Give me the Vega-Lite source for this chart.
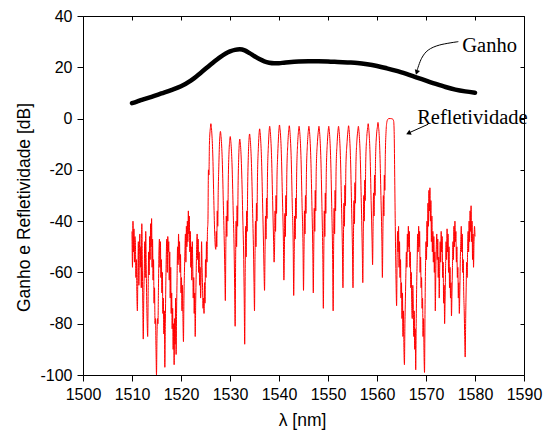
{
"$schema": "https://vega.github.io/schema/vega-lite/v6.json",
"width": 441, "height": 359,
"autosize": {"type": "none"},
"padding": {"left": 83, "top": 16, "right": 20, "bottom": 55},
"background": "white",
"config": {"view": {"stroke": null},
 "axis": {"labelFont": "Liberation Sans", "titleFont": "Liberation Sans", "labelColor": "black", "titleColor": "black", "domainColor": "black", "tickColor": "black", "grid": false, "titleFontWeight": "normal", "labelFontSize": 16, "titleFontSize": 17.5}},
"datasets": {
"refl": [
{"x":1510.0,"r":-44},{"x":1510.1,"r":-58},{"x":1510.2,"r":-40},{"x":1510.3,"r":-52},{"x":1510.4,"r":-43},{"x":1510.5,"r":-56},{"x":1510.6,"r":-46},{"x":1510.7,"r":-49},{"x":1510.8,"r":-62},{"x":1510.9,"r":-55},
{"x":1511.0,"r":-69},{"x":1511.1,"r":-75},{"x":1511.2,"r":-60},{"x":1511.3,"r":-48},{"x":1511.4,"r":-65},{"x":1511.5,"r":-53},{"x":1511.6,"r":-45},{"x":1511.7,"r":-58},{"x":1511.8,"r":-50},{"x":1511.9,"r":-66},
{"x":1512.0,"r":-41},{"x":1512.1,"r":-55},{"x":1512.2,"r":-72},{"x":1512.3,"r":-86},{"x":1512.4,"r":-70},{"x":1512.5,"r":-60},{"x":1512.6,"r":-48},{"x":1512.7,"r":-62},{"x":1512.8,"r":-44},{"x":1512.9,"r":-57},
{"x":1513.0,"r":-71},{"x":1513.1,"r":-80},{"x":1513.2,"r":-85},{"x":1513.3,"r":-67},{"x":1513.4,"r":-52},{"x":1513.5,"r":-61},{"x":1513.6,"r":-46},{"x":1513.7,"r":-55},{"x":1513.8,"r":-41},{"x":1513.9,"r":-50},
{"x":1514.0,"r":-39},{"x":1514.1,"r":-58},{"x":1514.2,"r":-47},{"x":1514.3,"r":-63},{"x":1514.4,"r":-55},{"x":1514.5,"r":-72},{"x":1514.6,"r":-66},{"x":1514.7,"r":-80},{"x":1514.8,"r":-78},{"x":1514.9,"r":-90},
{"x":1515.0,"r":-100},{"x":1515.1,"r":-85},{"x":1515.2,"r":-78},{"x":1515.3,"r":-80},{"x":1515.4,"r":-66},{"x":1515.5,"r":-52},{"x":1515.6,"r":-47},{"x":1515.7,"r":-58},{"x":1515.8,"r":-48},{"x":1515.9,"r":-62},
{"x":1516.0,"r":-55},{"x":1516.1,"r":-68},{"x":1516.2,"r":-60},{"x":1516.3,"r":-76},{"x":1516.4,"r":-70},{"x":1516.5,"r":-84},{"x":1516.6,"r":-75},{"x":1516.7,"r":-97},{"x":1516.8,"r":-80},{"x":1516.9,"r":-65},
{"x":1517.0,"r":-53},{"x":1517.1,"r":-47},{"x":1517.2,"r":-60},{"x":1517.3,"r":-46},{"x":1517.4,"r":-52},{"x":1517.5,"r":-48},{"x":1517.6,"r":-63},{"x":1517.7,"r":-52},{"x":1517.8,"r":-70},{"x":1517.9,"r":-58},
{"x":1518.0,"r":-76},{"x":1518.1,"r":-68},{"x":1518.2,"r":-82},{"x":1518.3,"r":-74},{"x":1518.4,"r":-90},{"x":1518.5,"r":-80},{"x":1518.6,"r":-96},{"x":1518.7,"r":-78},{"x":1518.8,"r":-88},{"x":1518.9,"r":-70},
{"x":1519.0,"r":-92},{"x":1519.1,"r":-75},{"x":1519.2,"r":-62},{"x":1519.3,"r":-50},{"x":1519.4,"r":-57},{"x":1519.5,"r":-45},{"x":1519.6,"r":-55},{"x":1519.7,"r":-48},{"x":1519.8,"r":-60},{"x":1519.9,"r":-53},
{"x":1520.0,"r":-68},{"x":1520.1,"r":-62},{"x":1520.2,"r":-75},{"x":1520.3,"r":-65},{"x":1520.4,"r":-78},{"x":1520.5,"r":-87},{"x":1520.6,"r":-70},{"x":1520.7,"r":-60},{"x":1520.8,"r":-52},{"x":1520.9,"r":-45},
{"x":1521.0,"r":-56},{"x":1521.1,"r":-42},{"x":1521.2,"r":-50},{"x":1521.3,"r":-40},{"x":1521.4,"r":-48},{"x":1521.5,"r":-36},{"x":1521.6,"r":-45},{"x":1521.7,"r":-38},{"x":1521.8,"r":-52},{"x":1521.9,"r":-44},
{"x":1522.0,"r":-58},{"x":1522.1,"r":-50},{"x":1522.2,"r":-63},{"x":1522.3,"r":-48},{"x":1522.4,"r":-57},{"x":1522.5,"r":-70},{"x":1522.6,"r":-62},{"x":1522.7,"r":-76},{"x":1522.8,"r":-68},{"x":1522.9,"r":-85},
{"x":1523.0,"r":-72},{"x":1523.1,"r":-60},{"x":1523.2,"r":-50},{"x":1523.3,"r":-45},{"x":1523.4,"r":-55},{"x":1523.5,"r":-47},{"x":1523.6,"r":-60},{"x":1523.7,"r":-52},{"x":1523.8,"r":-65},{"x":1523.9,"r":-58},
{"x":1524.0,"r":-70},{"x":1524.1,"r":-62},{"x":1524.2,"r":-48},{"x":1524.3,"r":-58},{"x":1524.4,"r":-66},{"x":1524.5,"r":-74},{"x":1524.6,"r":-70},{"x":1524.7,"r":-76},{"x":1524.8,"r":-64},{"x":1524.9,"r":-72},
{"x":1525.0,"r":-55},{"x":1525.1,"r":-62},{"x":1525.2,"r":-48},{"x":1525.3,"r":-56},{"x":1525.4,"r":-44},{"x":1525.5,"r":-40},{"x":1525.6,"r":-20},{"x":1525.7,"r":-22},{"x":1525.8,"r":-10},{"x":1526.0,"r":-3.5},
{"x":1526.1,"r":-2},{"x":1526.2,"r":-3.5},{"x":1526.3,"r":-6},{"x":1526.5,"r":-15},{"x":1526.7,"r":-32},{"x":1526.9,"r":-46},{"x":1527.0,"r":-50},{"x":1527.1,"r":-51},{"x":1527.2,"r":-44},{"x":1527.3,"r":-50},{"x":1527.4,"r":-36},{"x":1527.5,"r":-42},{"x":1527.6,"r":-28},{"x":1527.7,"r":-20},{"x":1527.85,"r":-10},{"x":1527.95,"r":-6.5},
{"x":1528.05,"r":-5},{"x":1528.15,"r":-6.5},{"x":1528.25,"r":-9},{"x":1528.45,"r":-18},{"x":1528.65,"r":-34},{"x":1528.85,"r":-50},{"x":1528.95,"r":-60},{"x":1529.05,"r":-71},{"x":1529.15,"r":-50},{"x":1529.25,"r":-38},{"x":1529.35,"r":-46},{"x":1529.45,"r":-32},{"x":1529.55,"r":-40},{"x":1529.65,"r":-24},{"x":1529.8,"r":-13},{"x":1529.95,"r":-8.5},
{"x":1530.05,"r":-7},{"x":1530.15,"r":-8.5},{"x":1530.25,"r":-11},{"x":1530.45,"r":-20},{"x":1530.65,"r":-36},{"x":1530.85,"r":-52},{"x":1530.95,"r":-66},{"x":1531.05,"r":-81},{"x":1531.15,"r":-55},{"x":1531.25,"r":-40},{"x":1531.35,"r":-50},{"x":1531.45,"r":-34},{"x":1531.55,"r":-42},{"x":1531.65,"r":-26},{"x":1531.78,"r":-15},{"x":1531.9,"r":-9.5},
{"x":1532.0,"r":-8},{"x":1532.1,"r":-9.5},{"x":1532.2,"r":-12},{"x":1532.4,"r":-22},{"x":1532.6,"r":-38},{"x":1532.8,"r":-55},{"x":1532.9,"r":-70},{"x":1533.0,"r":-88},{"x":1533.1,"r":-60},{"x":1533.2,"r":-42},{"x":1533.3,"r":-54},{"x":1533.4,"r":-36},{"x":1533.5,"r":-44},{"x":1533.6,"r":-27},{"x":1533.75,"r":-14},{"x":1533.9,"r":-7.5},
{"x":1534.0,"r":-6},{"x":1534.1,"r":-7.5},{"x":1534.2,"r":-10},{"x":1534.4,"r":-19},{"x":1534.6,"r":-35},{"x":1534.8,"r":-52},{"x":1534.9,"r":-64},{"x":1535.0,"r":-75},{"x":1535.1,"r":-55},{"x":1535.2,"r":-40},{"x":1535.3,"r":-50},{"x":1535.4,"r":-33},{"x":1535.5,"r":-40},{"x":1535.6,"r":-24},{"x":1535.8,"r":-11},{"x":1535.95,"r":-5.5},
{"x":1536.05,"r":-4},{"x":1536.15,"r":-5.5},{"x":1536.25,"r":-8},{"x":1536.45,"r":-17},{"x":1536.65,"r":-33},{"x":1536.85,"r":-50},{"x":1536.95,"r":-60},{"x":1537.05,"r":-67},{"x":1537.15,"r":-52},{"x":1537.25,"r":-38},{"x":1537.35,"r":-47},{"x":1537.45,"r":-31},{"x":1537.55,"r":-39},{"x":1537.65,"r":-22},{"x":1537.85,"r":-10},{"x":1538.0,"r":-4.5},
{"x":1538.1,"r":-3},{"x":1538.2,"r":-4.5},{"x":1538.3,"r":-7},{"x":1538.5,"r":-16},{"x":1538.7,"r":-32},{"x":1538.9,"r":-48},{"x":1539.0,"r":-56},{"x":1539.1,"r":-50},{"x":1539.2,"r":-36},{"x":1539.3,"r":-44},{"x":1539.4,"r":-30},{"x":1539.5,"r":-37},{"x":1539.6,"r":-22},{"x":1539.7,"r":-16},{"x":1539.88,"r":-8},{"x":1540.0,"r":-4},
{"x":1540.1,"r":-2.5},{"x":1540.2,"r":-4},{"x":1540.3,"r":-6},{"x":1540.5,"r":-15},{"x":1540.7,"r":-31},{"x":1540.9,"r":-48},{"x":1541.0,"r":-63},{"x":1541.1,"r":-52},{"x":1541.2,"r":-37},{"x":1541.3,"r":-46},{"x":1541.4,"r":-30},{"x":1541.5,"r":-38},{"x":1541.6,"r":-21},{"x":1541.8,"r":-10},{"x":1542.0,"r":-4.3},
{"x":1542.1,"r":-2.8},{"x":1542.2,"r":-4.3},{"x":1542.3,"r":-7},{"x":1542.5,"r":-16},{"x":1542.7,"r":-33},{"x":1542.9,"r":-50},{"x":1543.0,"r":-69},{"x":1543.1,"r":-54},{"x":1543.2,"r":-38},{"x":1543.3,"r":-47},{"x":1543.4,"r":-31},{"x":1543.5,"r":-39},{"x":1543.6,"r":-22},{"x":1543.8,"r":-10},{"x":1544.0,"r":-4.5},
{"x":1544.1,"r":-3},{"x":1544.2,"r":-4.5},{"x":1544.3,"r":-7},{"x":1544.5,"r":-16},{"x":1544.7,"r":-33},{"x":1544.9,"r":-50},{"x":1545.0,"r":-67},{"x":1545.1,"r":-52},{"x":1545.2,"r":-36},{"x":1545.3,"r":-45},{"x":1545.4,"r":-30},{"x":1545.5,"r":-37},{"x":1545.6,"r":-21},{"x":1545.8,"r":-10},{"x":1546.0,"r":-4.5},
{"x":1546.1,"r":-3},{"x":1546.2,"r":-4.5},{"x":1546.3,"r":-7},{"x":1546.5,"r":-16},{"x":1546.7,"r":-32},{"x":1546.9,"r":-52},{"x":1547.0,"r":-68},{"x":1547.1,"r":-50},{"x":1547.2,"r":-35},{"x":1547.3,"r":-44},{"x":1547.4,"r":-28},{"x":1547.5,"r":-36},{"x":1547.6,"r":-20},{"x":1547.85,"r":-9},{"x":1548.05,"r":-4.5},
{"x":1548.15,"r":-3},{"x":1548.25,"r":-4.5},{"x":1548.35,"r":-7},{"x":1548.55,"r":-16},{"x":1548.75,"r":-33},{"x":1548.95,"r":-55},{"x":1549.05,"r":-74},{"x":1549.15,"r":-52},{"x":1549.25,"r":-36},{"x":1549.35,"r":-46},{"x":1549.45,"r":-29},{"x":1549.55,"r":-37},{"x":1549.65,"r":-21},{"x":1549.88,"r":-9},{"x":1550.05,"r":-4.5},
{"x":1550.15,"r":-3},{"x":1550.25,"r":-4.5},{"x":1550.35,"r":-7},{"x":1550.55,"r":-16},{"x":1550.75,"r":-33},{"x":1550.95,"r":-55},{"x":1551.05,"r":-75},{"x":1551.15,"r":-50},{"x":1551.25,"r":-35},{"x":1551.35,"r":-45},{"x":1551.45,"r":-28},{"x":1551.55,"r":-36},{"x":1551.65,"r":-20},{"x":1551.88,"r":-9},{"x":1552.05,"r":-4.5},
{"x":1552.15,"r":-3},{"x":1552.25,"r":-4.5},{"x":1552.35,"r":-7},{"x":1552.55,"r":-16},{"x":1552.75,"r":-33},{"x":1552.95,"r":-52},{"x":1553.05,"r":-66},{"x":1553.15,"r":-48},{"x":1553.25,"r":-33},{"x":1553.35,"r":-42},{"x":1553.45,"r":-26},{"x":1553.55,"r":-34},{"x":1553.65,"r":-19},{"x":1553.9,"r":-9},{"x":1554.1,"r":-4.3},
{"x":1554.2,"r":-2.8},{"x":1554.3,"r":-4.3},{"x":1554.4,"r":-7},{"x":1554.6,"r":-16},{"x":1554.8,"r":-33},{"x":1555.0,"r":-52},{"x":1555.1,"r":-66},{"x":1555.2,"r":-46},{"x":1555.3,"r":-32},{"x":1555.4,"r":-41},{"x":1555.5,"r":-25},{"x":1555.6,"r":-33},{"x":1555.7,"r":-18},{"x":1555.92,"r":-8},{"x":1556.1,"r":-4.5},
{"x":1556.2,"r":-3},{"x":1556.3,"r":-4.5},{"x":1556.4,"r":-7},{"x":1556.6,"r":-16},{"x":1556.8,"r":-33},{"x":1557.0,"r":-52},{"x":1557.1,"r":-64},{"x":1557.2,"r":-45},{"x":1557.3,"r":-30},{"x":1557.4,"r":-40},{"x":1557.5,"r":-24},{"x":1557.6,"r":-32},{"x":1557.7,"r":-17},{"x":1557.92,"r":-7},{"x":1558.1,"r":-3.5},
{"x":1558.2,"r":-2},{"x":1558.3,"r":-3.5},{"x":1558.4,"r":-6},{"x":1558.6,"r":-15},{"x":1558.8,"r":-32},{"x":1559.0,"r":-48},{"x":1559.1,"r":-57},{"x":1559.2,"r":-42},{"x":1559.3,"r":-29},{"x":1559.4,"r":-38},{"x":1559.5,"r":-22},{"x":1559.6,"r":-30},{"x":1559.7,"r":-16},{"x":1559.92,"r":-6},{"x":1560.1,"r":-3},
{"x":1560.2,"r":-1.5},{"x":1560.3,"r":-3},{"x":1560.4,"r":-5},{"x":1560.6,"r":-14},{"x":1560.8,"r":-30},{"x":1561.0,"r":-48},{"x":1561.1,"r":-62},{"x":1561.2,"r":-45},{"x":1561.3,"r":-30},{"x":1561.4,"r":-38},{"x":1561.5,"r":-22},{"x":1561.6,"r":-28},{"x":1561.7,"r":-14},{"x":1561.85,"r":-5},
{"x":1562.0,"r":-1.5},{"x":1562.2,"r":-0.3},{"x":1562.4,"r":0},{"x":1562.8,"r":0},{"x":1563.2,"r":-0.2},{"x":1563.4,"r":-1},{"x":1563.5,"r":-5},{"x":1563.6,"r":-20},{"x":1563.75,"r":-45},{"x":1563.9,"r":-65},
{"x":1564.0,"r":-73},{"x":1564.1,"r":-55},{"x":1564.2,"r":-44},{"x":1564.3,"r":-52},{"x":1564.4,"r":-42},{"x":1564.5,"r":-58},{"x":1564.6,"r":-48},{"x":1564.7,"r":-62},{"x":1564.8,"r":-55},{"x":1564.9,"r":-70},
{"x":1565.0,"r":-64},{"x":1565.1,"r":-78},{"x":1565.2,"r":-68},{"x":1565.3,"r":-85},{"x":1565.4,"r":-75},{"x":1565.5,"r":-90},{"x":1565.6,"r":-96},{"x":1565.7,"r":-80},{"x":1565.8,"r":-70},{"x":1565.9,"r":-60},
{"x":1566.0,"r":-52},{"x":1566.1,"r":-58},{"x":1566.2,"r":-45},{"x":1566.3,"r":-52},{"x":1566.4,"r":-42},{"x":1566.5,"r":-50},{"x":1566.6,"r":-44},{"x":1566.7,"r":-58},{"x":1566.8,"r":-52},{"x":1566.9,"r":-66},
{"x":1567.0,"r":-60},{"x":1567.1,"r":-74},{"x":1567.2,"r":-78},{"x":1567.3,"r":-65},{"x":1567.4,"r":-72},{"x":1567.5,"r":-85},{"x":1567.6,"r":-75},{"x":1567.7,"r":-90},{"x":1567.8,"r":-82},{"x":1567.9,"r":-98},
{"x":1568.0,"r":-80},{"x":1568.1,"r":-65},{"x":1568.2,"r":-55},{"x":1568.3,"r":-45},{"x":1568.4,"r":-52},{"x":1568.5,"r":-42},{"x":1568.6,"r":-50},{"x":1568.7,"r":-44},{"x":1568.8,"r":-60},{"x":1568.9,"r":-54},
{"x":1569.0,"r":-66},{"x":1569.1,"r":-62},{"x":1569.2,"r":-74},{"x":1569.3,"r":-70},{"x":1569.4,"r":-85},{"x":1569.5,"r":-78},{"x":1569.6,"r":-92},{"x":1569.7,"r":-99},{"x":1569.8,"r":-75},{"x":1569.9,"r":-58},
{"x":1570.0,"r":-48},{"x":1570.1,"r":-55},{"x":1570.2,"r":-40},{"x":1570.3,"r":-50},{"x":1570.4,"r":-33},{"x":1570.5,"r":-42},{"x":1570.6,"r":-28},{"x":1570.7,"r":-36},{"x":1570.8,"r":-27},{"x":1570.9,"r":-40},
{"x":1571.0,"r":-32},{"x":1571.1,"r":-48},{"x":1571.2,"r":-38},{"x":1571.3,"r":-52},{"x":1571.4,"r":-44},{"x":1571.5,"r":-56},{"x":1571.6,"r":-46},{"x":1571.7,"r":-60},{"x":1571.8,"r":-52},{"x":1571.9,"r":-75},
{"x":1572.0,"r":-60},{"x":1572.1,"r":-50},{"x":1572.2,"r":-45},{"x":1572.3,"r":-55},{"x":1572.4,"r":-47},{"x":1572.5,"r":-62},{"x":1572.6,"r":-54},{"x":1572.7,"r":-70},{"x":1572.8,"r":-58},{"x":1572.9,"r":-48},
{"x":1573.0,"r":-56},{"x":1573.1,"r":-44},{"x":1573.2,"r":-52},{"x":1573.3,"r":-46},{"x":1573.4,"r":-62},{"x":1573.5,"r":-56},{"x":1573.6,"r":-72},{"x":1573.7,"r":-65},{"x":1573.8,"r":-80},{"x":1573.9,"r":-70},
{"x":1574.0,"r":-58},{"x":1574.1,"r":-48},{"x":1574.2,"r":-55},{"x":1574.3,"r":-43},{"x":1574.4,"r":-52},{"x":1574.5,"r":-45},{"x":1574.6,"r":-60},{"x":1574.7,"r":-50},{"x":1574.8,"r":-66},{"x":1574.9,"r":-58},
{"x":1575.0,"r":-70},{"x":1575.1,"r":-64},{"x":1575.2,"r":-77},{"x":1575.3,"r":-68},{"x":1575.4,"r":-58},{"x":1575.5,"r":-48},{"x":1575.6,"r":-55},{"x":1575.7,"r":-42},{"x":1575.8,"r":-50},{"x":1575.9,"r":-40},
{"x":1576.0,"r":-48},{"x":1576.1,"r":-44},{"x":1576.2,"r":-56},{"x":1576.3,"r":-50},{"x":1576.4,"r":-62},{"x":1576.5,"r":-58},{"x":1576.6,"r":-70},{"x":1576.7,"r":-64},{"x":1576.8,"r":-76},{"x":1576.9,"r":-68},
{"x":1577.0,"r":-55},{"x":1577.1,"r":-48},{"x":1577.2,"r":-42},{"x":1577.3,"r":-52},{"x":1577.4,"r":-45},{"x":1577.5,"r":-60},{"x":1577.6,"r":-55},{"x":1577.7,"r":-68},{"x":1577.8,"r":-75},{"x":1577.9,"r":-85},
{"x":1578.0,"r":-93},{"x":1578.1,"r":-78},{"x":1578.2,"r":-66},{"x":1578.3,"r":-56},{"x":1578.4,"r":-62},{"x":1578.5,"r":-50},{"x":1578.6,"r":-44},{"x":1578.7,"r":-52},{"x":1578.8,"r":-40},{"x":1578.9,"r":-48},
{"x":1579.0,"r":-36},{"x":1579.1,"r":-44},{"x":1579.2,"r":-34},{"x":1579.3,"r":-48},{"x":1579.4,"r":-40},{"x":1579.5,"r":-55},{"x":1579.6,"r":-45},{"x":1579.7,"r":-58},{"x":1579.8,"r":-48},{"x":1579.9,"r":-42},
{"x":1580.0,"r":-46}
],
"gain": [
{"x":1510,"g":6},{"x":1511,"g":6.6},{"x":1512,"g":7.3},{"x":1514,"g":8.5},{"x":1516,"g":9.8},{"x":1518,"g":11.1},{"x":1520,"g":12.6},{"x":1522,"g":14.8},{"x":1524,"g":17.8},{"x":1526,"g":21},{"x":1528,"g":24},{"x":1530,"g":26.2},{"x":1531,"g":26.8},{"x":1532,"g":27},{"x":1533,"g":26.6},{"x":1534,"g":25.5},{"x":1535,"g":24.3},{"x":1536,"g":23.2},{"x":1537,"g":22.3},{"x":1538,"g":21.8},{"x":1539,"g":21.6},{"x":1540,"g":21.6},{"x":1541,"g":21.8},{"x":1542,"g":22},{"x":1544,"g":22.3},{"x":1546,"g":22.4},{"x":1548,"g":22.4},{"x":1550,"g":22.3},{"x":1552,"g":22.1},{"x":1554,"g":21.9},{"x":1556,"g":21.7},{"x":1558,"g":21.2},{"x":1560,"g":20.5},{"x":1562,"g":19.6},{"x":1564,"g":18.6},{"x":1566,"g":17.4},{"x":1568,"g":16.1},{"x":1570,"g":14.8},{"x":1572,"g":13.5},{"x":1574,"g":12.3},{"x":1576,"g":11.3},{"x":1578,"g":10.6},{"x":1580,"g":10.1}
],
"arrowline": [
{"id":"g","x":1576.6,"y":30.0},{"id":"g","x":1572.8,"y":28.7},{"id":"g","x":1570.45,"y":26.7},{"id":"g","x":1569.1,"y":23.5},{"id":"g","x":1568.2,"y":18.9},
{"id":"r","x":1570.45,"y":-2.2},{"id":"r","x":1566.6,"y":-5.5}
],
"heads": [
{"x":1568.1,"y":18.0,"a":198},{"x":1566.4,"y":-5.7,"a":246}
],
"notes": [
{"x":1577.4,"y":26.1,"t":"Ganho"},{"x":1568.2,"y":-2.1,"t":"Refletividade"}
]
},
"resolve": {"axis": {"x": "independent", "y": "independent"}},
"layer": [
{"data": {"name": "refl"}, "mark": {"type": "line", "color": "#ff0000", "strokeWidth": 1, "interpolate": "monotone"},
 "encoding": {
  "x": {"field": "x", "type": "quantitative", "scale": {"domain": [1500, 1590], "nice": false, "zero": false},
        "axis": {"orient": "bottom", "title": "λ [nm]", "values": [1500,1510,1520,1530,1540,1550,1560,1570,1580,1590], "labelExpr": "'' + datum.value", "labelOverlap": false, "labelFlush": false, "tickSize": 6, "labelPadding": 5, "titleX": 219, "titleY": 50, "titleBaseline": "alphabetic", "titleAlign": "center"}},
  "y": {"field": "r", "type": "quantitative", "scale": {"domain": [-100, 40], "nice": false, "zero": false},
        "axis": {"orient": "left", "title": "Ganho e Refletividade [dB]", "values": [-100,-80,-60,-40,-20,0,20,40], "labelExpr": "'' + datum.value", "labelOverlap": false, "labelFlush": false, "tickSize": 6, "labelPadding": 5, "titleX": -59, "titleY": 191, "titleAlign": "center", "titleBaseline": "middle", "titleAngle": -90}}
 }},
{"data": {"name": "gain"}, "mark": {"type": "line", "color": "black", "strokeWidth": 4.5, "interpolate": "monotone", "strokeCap": "round"},
 "encoding": {
  "x": {"field": "x", "type": "quantitative", "axis": {"orient": "top", "title": null, "labels": false, "values": [1500,1510,1520,1530,1540,1550,1560,1570,1580,1590], "tickSize": -4}},
  "y": {"field": "g", "type": "quantitative", "axis": {"orient": "right", "title": null, "labels": false, "values": [-100,-80,-60,-40,-20,0,20,40], "tickSize": -4}}
 }},
{"data": {"name": "arrowline"}, "mark": {"type": "line", "color": "black", "strokeWidth": 1, "interpolate": "cardinal"},
 "encoding": {
  "x": {"field": "x", "type": "quantitative", "axis": null},
  "y": {"field": "y", "type": "quantitative", "axis": null},
  "detail": {"field": "id"}
 }},
{"data": {"name": "heads"}, "mark": {"type": "point", "shape": "triangle-up", "filled": true, "color": "black", "size": 30, "opacity": 1},
 "encoding": {
  "x": {"field": "x", "type": "quantitative", "axis": null},
  "y": {"field": "y", "type": "quantitative", "axis": null},
  "angle": {"field": "a", "type": "quantitative", "scale": null}
 }},
{"data": {"name": "notes"}, "mark": {"type": "text", "font": "Liberation Serif", "fontSize": 20.5, "align": "left", "baseline": "alphabetic", "color": "black"},
 "encoding": {
  "x": {"field": "x", "type": "quantitative", "axis": null},
  "y": {"field": "y", "type": "quantitative", "axis": null},
  "text": {"field": "t"}
 }}
]
}
